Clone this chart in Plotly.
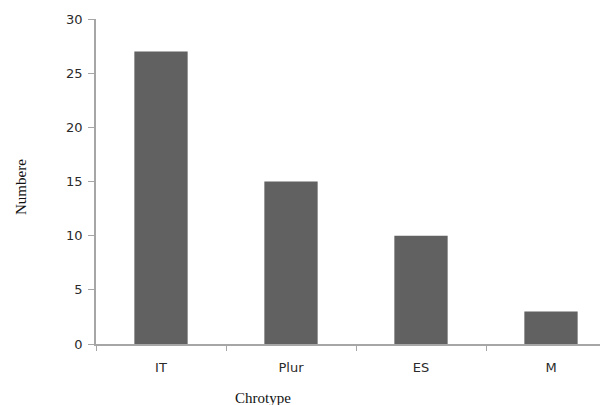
import plotly.graph_objects as go

categories = ["IT", "Plur", "ES", "M"]
values = [27, 15, 10, 3]
y_ticks = [0, 5, 10, 15, 20, 25, 30]

# page body has an 8px margin, so the figure is drawn at (8, 8)
OFF = 8
W, H = 616 - OFF, 405 - OFF
L, T, B, R = 96 - OFF, 19 - OFF, 405 - 344, 0
pw = W - L - R
ph = H - T - B

def px_to_paper(px, py):
    return ((px - 96) / pw, (344 - py) / ph)

fig = go.Figure(go.Bar(
    x=categories, y=values, width=0.41,
    marker=dict(color="#616161", line=dict(width=0)),
))

axis_grey = "#a6a6a6"
ax_x, ax_y = px_to_paper(263, 398)
ay_x, ay_y = px_to_paper(21, 187)
fig.update_layout(
    width=W, height=H,
    margin=dict(l=L, r=R, t=T, b=B, autoexpand=False),
    plot_bgcolor="white", paper_bgcolor="white",
    showlegend=False,
    font=dict(family="DejaVu Sans", size=13, color="#2a2a2a"),
    xaxis=dict(
        type="category", range=[-0.5, 3.5],
        showline=True, linecolor=axis_grey, linewidth=1.5,
        ticks="outside", ticklen=5, tickcolor=axis_grey, tickson="boundaries",
        showgrid=False, tickfont=dict(size=13), ticklabelstandoff=11,
    ),
    yaxis=dict(
        range=[0, 30], tickvals=y_ticks,
        showline=True, linecolor=axis_grey, linewidth=1.5,
        ticks="outside", ticklen=6, tickcolor=axis_grey,
        showgrid=False, zeroline=False, tickfont=dict(size=13),
        ticklabelstandoff=3,
    ),
    annotations=[
        dict(text="Chrotype", x=ax_x, y=ax_y, xref="paper", yref="paper",
             showarrow=False, font=dict(family="Liberation Serif", size=15, color="#111111"),
             xanchor="center", yanchor="middle"),
        dict(text="Numbere", x=ay_x, y=ay_y, xref="paper", yref="paper",
             showarrow=False, textangle=-90,
             font=dict(family="Liberation Serif", size=15, color="#111111"),
             xanchor="center", yanchor="middle"),
    ],
)

fig.write_html("out.html")
